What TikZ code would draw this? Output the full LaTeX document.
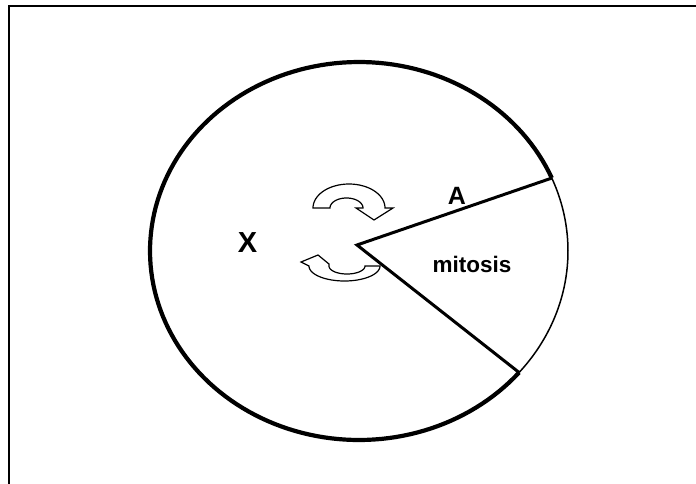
\documentclass[tikz,border=0pt]{standalone}
\usepackage{fontspec}
\setmainfont{Liberation Sans}
\begin{document}
\begin{tikzpicture}[x=1pt,y=-1pt,
  frame/.style={line width=2.3pt},
  thickarc/.style={line width=4.2pt},
  thinarc/.style={line width=1.5pt},
  sector/.style={line width=3pt, line join=miter},
  cyc/.style={line width=1.2pt, line join=miter, fill=white},
  lbl/.style={inner sep=0pt, anchor=base, font=\bfseries}]
\useasboundingbox (0,0) rectangle (696,484);
% frame
\draw[frame] (8.7,484) -- (8.7,6.2) -- (696,6.2);
% cell cycle ellipse
\coordinate (O) at (357,245);
\coordinate (P) at ({359+209*cos(-22.7)},{251+189*sin(-22.7)});
\coordinate (Q) at ({359+209*cos(40)},{251+189*sin(40)});
\draw[thickarc] plot[domain=40:337.3, samples=150] ({359+209*cos(\x)},{251+189*sin(\x)});
\draw[thinarc] plot[domain=-22.7:40, samples=40] ({359+209*cos(\x)},{251+189*sin(\x)});
\draw[sector] (P) -- (O) -- (Q);
% upper curved arrow
\draw[cyc] (313,208) -- plot[domain=180:360, samples=40] ({349+36*cos(\x)},{208+24*sin(\x)})
  -- (393,208) -- (374,220) -- (356,208) -- (363,208)
  -- plot[domain=360:180, samples=40] ({346.5+16.5*cos(\x)},{208+10*sin(\x)}) -- cycle;
% lower curved arrow
\draw[cyc] (380,266) -- plot[domain=0:180, samples=40] ({344.5+35.5*cos(\x)},{266+15*sin(\x)})
  -- (301,262) -- (318,255) -- (329,264)
  -- plot[domain=180:0, samples=40] ({347+18*cos(\x)},{266+8*sin(\x)}) -- cycle;
% labels
\node[lbl, font=\bfseries\fontsize{29}{29}\selectfont] (X) at (247.5,252) {X};
\node[lbl, font=\bfseries\fontsize{25}{25}\selectfont] (A) at (457,204) {A};
\node[lbl, font=\bfseries\fontsize{22.5}{22.5}\selectfont] (mit) at (472,272) {mitosis};
\end{tikzpicture}
\end{document}
